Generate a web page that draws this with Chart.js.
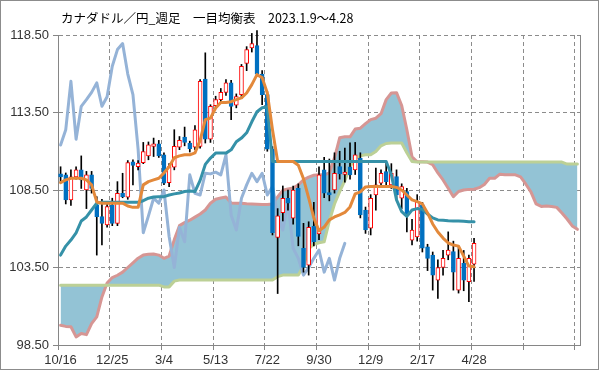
<!DOCTYPE html>
<html lang="ja">
<head>
<meta charset="utf-8">
<title>カナダドル／円 週足 一目均衡表</title>
<script src="https://cdn.jsdelivr.net/npm/chart.js@4/dist/chart.umd.min.js"></script>
<style>
  html, body { margin: 0; padding: 0; background: #fff; }
  #wrap { position: relative; width: 599px; height: 370px; }
  #ichimoku { position: absolute; left: 0; top: 0; }
  #title { position: absolute; left: 61px; top: 9px; font-size: 12.5px; line-height: 18px;
           font-family: "Noto Sans CJK JP", sans-serif; color: #000; white-space: pre; }
  #frame { position: absolute; left: 0; top: 0; width: 599px; height: 370px; box-sizing: border-box;
           border: 1px solid #8c8c8c; pointer-events: none; }
</style>
</head>
<body>
<div id="wrap">
  <canvas id="ichimoku" width="599" height="370"></canvas>
  <div id="title">カナダドル／円_週足　一目均衡表　2023.1.9～4.28</div>
  <div id="frame"></div>
</div>
<script>
// x axis labels, one every 10 weeks
const tickLabels = ['10/16', '12/25', '3/4', '5/13', '7/22', '9/30', '12/9', '2/17', '4/28'];
const yTicks = [98.5, 103.5, 108.5, 113.5, 118.5];
const weeks = 101;

// weekly candles
const open = [
  109.54, 109.48, 107.86, 109.35, 109.8, 108.51, 109.48, 107.53, 106.78, 106.24,
  107.53, 106.35, 108.29, 108.03, 110.32, 110.0, 110.27, 110.7, 111.31, 111.48,
  110.77, 108.98, 109.97, 111.27, 111.91, 111.53, 111.27, 111.31, 115.66, 111.78,
  113.94, 114.33, 114.8, 115.41, 113.98, 114.65, 116.66, 117.67, 117.82, 115.98,
  114.65, 111.14, 105.44, 107.04, 107.97, 106.68, 108.6, 104.74, 103.65, 106.18,
  105.66, 109.8, 108.33, 108.5, 110.01, 109.5, 110.0, 109.8, 110.56, 107.21,
  106.03, 108.18, 108.94, 109.69, 108.83, 109.37, 107.97, 108.4, 105.27, 105.48,
  107.54, 104.84, 104.3, 102.69, 103.5, 104.3, 104.52, 102.04, 103.77, 102.58,
  103.72
];
const high = [
  110.0, 109.6, 109.8, 110.0, 110.7, 109.7, 109.7, 108.07, 107.9, 107.75,
  107.97, 109.04, 109.58, 110.4, 110.45, 110.4, 111.57, 111.6, 111.85, 111.7,
  110.9, 110.2, 112.39, 111.95, 112.56, 111.65, 112.65, 115.62, 117.35, 114.0,
  114.55, 115.05, 115.62, 115.58, 114.7, 116.6, 117.75, 118.6, 118.79, 116.2,
  114.86, 111.3, 107.3, 108.76, 108.5, 108.76, 108.9, 106.35, 106.45, 107.7,
  110.0, 110.6, 110.5, 110.9, 111.0, 111.2, 111.55, 111.57, 110.9, 107.4,
  108.2, 109.91, 109.8, 110.34, 110.2, 109.8, 108.9, 108.6, 106.6, 108.2,
  107.7, 105.0, 104.5, 104.0, 104.6, 105.8, 105.2, 104.8, 104.6, 104.3,
  105.38
];
const low = [
  109.0, 107.6, 107.5, 109.2, 108.6, 107.3, 108.3, 104.3, 104.95, 106.1,
  106.2, 106.2, 108.0, 107.9, 108.83, 109.8, 110.2, 110.45, 110.66, 110.6,
  108.85, 108.72, 109.8, 111.1, 111.35, 110.95, 111.1, 111.2, 111.53, 111.57,
  113.75, 114.15, 114.6, 113.04, 113.8, 114.4, 116.2, 117.4, 115.9, 114.0,
  111.0, 105.6, 101.82, 106.5, 107.2, 106.3, 104.9, 103.2, 103.01, 104.9,
  105.3, 108.0, 107.8, 108.3, 109.2, 109.0, 109.2, 109.5, 106.7, 105.7,
  105.6, 107.2, 108.7, 108.7, 108.6, 107.9, 107.3, 105.8, 104.95, 105.2,
  104.5, 103.3, 102.04, 101.5, 103.0, 104.0, 102.04, 101.85, 102.0, 101.3,
  102.6
];
const close = [
  109.35, 107.86, 109.35, 109.8, 109.15, 109.48, 108.6, 106.78, 106.35, 107.43,
  106.35, 108.29, 108.07, 110.27, 110.08, 110.23, 110.98, 111.42, 111.48, 110.7,
  108.94, 110.01, 111.31, 111.7, 111.57, 111.16, 112.39, 115.51, 111.78, 113.9,
  114.33, 114.8, 115.41, 113.9, 114.52, 116.48, 117.56, 117.95, 115.98, 114.65,
  111.14, 105.74, 106.83, 107.97, 107.65, 108.5, 105.5, 103.5, 106.09, 105.16,
  109.48, 108.29, 108.18, 109.58, 109.54, 109.65, 109.48, 110.77, 106.89, 105.92,
  107.97, 108.83, 109.58, 109.04, 109.58, 108.18, 108.72, 106.89, 105.92, 107.75,
  104.74, 104.09, 103.01, 103.5, 104.09, 104.63, 103.2, 104.09, 102.69, 104.09,
  105.06
];

// 転換線
const tenkan = [
  108.98, 109.15, 109.25, 109.26, 109.26, 109.15, 108.83, 107.73, 107.65, 107.65,
  107.65, 107.65, 107.65, 107.47, 107.38, 107.38, 108.83, 109.04, 109.15, 109.26,
  109.6, 110.0, 110.58, 110.7, 110.77, 110.77, 110.9, 111.7, 113.04, 113.14,
  113.79, 114.15, 114.15, 114.2, 114.33, 114.44, 114.76, 115.3, 115.94, 115.75,
  114.76, 112.39, 110.34, 110.34, 110.34, 110.34, 110.1, 109.22, 107.99, 106.7,
  105.86, 106.11, 106.57, 106.76, 106.9, 107.05, 107.41, 108.25, 108.38, 108.7,
  108.72, 108.72, 108.72, 108.72, 108.72, 108.67, 108.5, 108.18, 107.86, 107.75,
  107.6, 107.02, 106.31, 105.79, 105.4, 105.08, 104.95, 104.88, 104.23, 103.59,
  103.55
];
// 基準線
const kijun = [
  104.3, 104.88, 105.27, 105.73, 106.5, 106.76, 107.21, 107.65, 107.71, 107.71,
  107.71, 107.71, 107.71, 107.71, 107.71, 107.71, 107.81, 107.97, 108.05, 108.07,
  108.07, 108.18, 108.25, 108.31, 108.4, 108.44, 108.4, 109.12, 110.15, 110.56,
  110.88, 110.88, 110.88, 111.09, 111.61, 111.85, 112.19, 112.9, 113.55, 113.81,
  113.87, 110.34, 110.34, 110.34, 110.34, 110.34, 110.34, 110.34, 110.34, 110.34,
  110.34, 110.34, 110.34, 110.34, 110.34, 110.34, 110.34, 110.34, 110.34, 110.34,
  110.34, 110.34, 110.34, 110.34, 109.48, 107.86, 107.1, 106.8, 107.21, 107.3,
  107.25, 106.95, 106.7, 106.57, 106.55, 106.52, 106.5, 106.5, 106.48, 106.45,
  106.45
];
// 遅行スパン
const chikou = [
  111.4, 112.39, 115.51, 111.78, 113.9, 114.33, 114.8, 115.41, 113.9, 114.52,
  116.48, 117.56, 117.95, 115.98, 114.65, 111.14, 105.74, 106.83, 107.97, 107.65,
  108.5, 105.5, 103.5, 106.09, 105.16, 109.48, 108.29, 108.18, 109.58, 109.54,
  109.65, 109.48, 110.77, 106.89, 105.92, 107.97, 108.83, 109.58, 109.04, 109.58,
  108.18, 108.72, 106.89, 105.92, 107.75, 104.74, 104.09, 103.01, 103.5, 104.09,
  104.63, 103.2, 104.09, 102.69, 104.09, 105.06
];
// 先行スパン1
const spanA = [
  99.77, 99.7, 99.68, 99.02, 99.24, 99.17, 99.88, 100.31, 101.6, 102.5,
  102.85, 103.0, 103.2, 103.5, 103.8, 104.1, 104.3, 104.35, 104.37, 104.3,
  104.09, 104.24, 105.3, 106.2, 106.4, 106.55, 106.75, 106.95, 107.21, 107.65,
  107.9, 107.98, 108.05, 107.66, 107.65, 107.65, 107.62, 107.6, 107.58, 107.56,
  107.56, 107.6, 108.05, 108.48, 108.57, 108.63, 108.83, 109.15, 109.33, 109.45,
  109.48, 109.48, 109.6, 110.58, 111.87, 111.93, 111.93, 112.43, 112.49, 112.78,
  113.04, 113.13, 113.42, 114.33, 114.76, 114.78, 113.95, 112.39, 110.64, 110.32,
  110.32, 110.3, 110.13, 109.6, 109.15, 108.61, 108.07, 108.4, 108.5, 108.54,
  108.55, 108.65, 108.86, 109.26, 109.26, 109.52, 109.48, 109.48, 109.48, 109.35,
  108.89, 108.38, 107.6, 107.44, 107.47, 107.44, 107.38, 107.02, 106.63, 106.18,
  105.96
];
// 先行スパン2
const spanB = [
  102.36, 102.36, 102.36, 102.36, 102.36, 102.36, 102.36, 102.36, 102.36, 102.36,
  102.36, 102.36, 102.36, 102.36, 102.36, 102.36, 102.36, 102.36, 102.36, 102.36,
  102.25, 102.25, 102.62, 102.69, 102.69, 102.69, 102.69, 102.69, 102.69, 102.69,
  102.69, 102.69, 102.69, 102.69, 102.69, 102.69, 102.69, 102.69, 102.69, 102.69,
  102.69, 102.69, 102.91, 103.01, 103.01, 103.01, 103.01, 103.6, 104.7, 105.0,
  105.1, 105.16, 106.5, 107.6, 108.4, 109.1, 110.0, 110.5, 110.7, 110.77,
  110.77, 110.98, 111.35, 111.5, 111.53, 111.53, 111.53, 110.9, 110.34, 110.3,
  110.3, 110.3, 110.3, 110.3, 110.3, 110.3, 110.3, 110.3, 110.3, 110.3,
  110.3, 110.3, 110.3, 110.3, 110.3, 110.3, 110.3, 110.3, 110.3, 110.3,
  110.3, 110.3, 110.3, 110.3, 110.3, 110.3, 110.3, 110.3, 110.17, 110.17,
  110.17
];

const labels = Array.from({ length: weeks }, (_, i) =>
  i % 10 === 0 && tickLabels[i / 10] ? tickLabels[i / 10] : '');
const bodies = open.map((o, i) => [o, close[i]]);
const wicks = low.map((l, i) => [l, high[i]]);
const isUp = bodies.map(([o, c]) => c >= o);

const gridGray = '#8c8c8c';
const axisGray = '#868686';
const labelFont = { family: 'Liberation Sans', size: 13 };

function lineSet(data, color, order, extra) {
  return Object.assign({
    type: 'line', data, borderColor: color, borderWidth: 3,
    pointRadius: 0, tension: 0, borderJoinStyle: 'round', borderCapStyle: 'round',
    fill: false, order
  }, extra || {});
}

new Chart(document.getElementById('ichimoku'), {
  type: 'bar',
  data: {
    labels,
    datasets: [
      lineSet(spanA, '#d69694', 10, { fill: { target: 1, above: '#93c3d5', below: '#93c3d5' }, backgroundColor: '#93c3d5' }),
      lineSet(spanB, '#bcd096', 9),
      lineSet(chikou, '#95b3d7', 8),
      {
        type: 'bar', data: wicks, backgroundColor: '#000', barThickness: 1,
        grouped: false, order: 7, clip: { left: 0, top: false, right: 0, bottom: 0 }
      },
      {
        type: 'bar', data: bodies, barThickness: 4, grouped: false, order: 6,
        backgroundColor: isUp.map(u => u ? '#ffffff' : '#0070c0'),
        borderColor: isUp.map(u => u ? '#ff0000' : '#0070c0'),
        borderWidth: 1, borderSkipped: false
      },
      lineSet(kijun, '#3591a8', 5),
      lineSet(tenkan, '#e3893b', 4)
    ]
  },
  options: {
    responsive: false,
    animation: false,
    devicePixelRatio: 1,
    events: [],
    layout: { padding: { left: 0, right: 19, top: 35, bottom: 0 } },
    plugins: { legend: { display: false }, tooltip: { enabled: false }, title: { display: false } },
    scales: {
      x: {
        type: 'category',
        offset: true,
        grid: {
          offset: true,
          lineWidth: 1,
          color: ctx => ctx.index % 10 === 0 ? gridGray : 'rgba(0,0,0,0)',
          tickColor: ctx => ctx.index % 10 === 0 ? axisGray : 'rgba(0,0,0,0)',
          tickLength: 5
        },
        border: { color: axisGray, width: 1, dash: [4, 3] },
        ticks: { autoSkip: false, maxRotation: 0, minRotation: 0, color: '#333', font: labelFont, padding: 3 },
        afterFit: s => { s.height = 25; }
      },
      y: {
        min: 98.5,
        max: 118.5,
        afterBuildTicks: s => { s.ticks = yTicks.map(v => ({ value: v })); },
        grid: { color: gridGray, tickColor: axisGray, tickLength: 5 },
        border: { color: axisGray, width: 1, dash: [4, 3] },
        ticks: { color: '#333', font: labelFont, padding: 4, callback: v => v.toFixed(2) },
        afterFit: s => { s.width = 58; }
      },
      yr: {
        position: 'right',
        min: 98.5,
        max: 118.5,
        grid: { display: false, drawTicks: false },
        ticks: { display: false },
        border: { display: true, color: axisGray, width: 1 },
        afterFit: s => { s.width = 0; }
      }
    }
  }
});
</script>
</body>
</html>
